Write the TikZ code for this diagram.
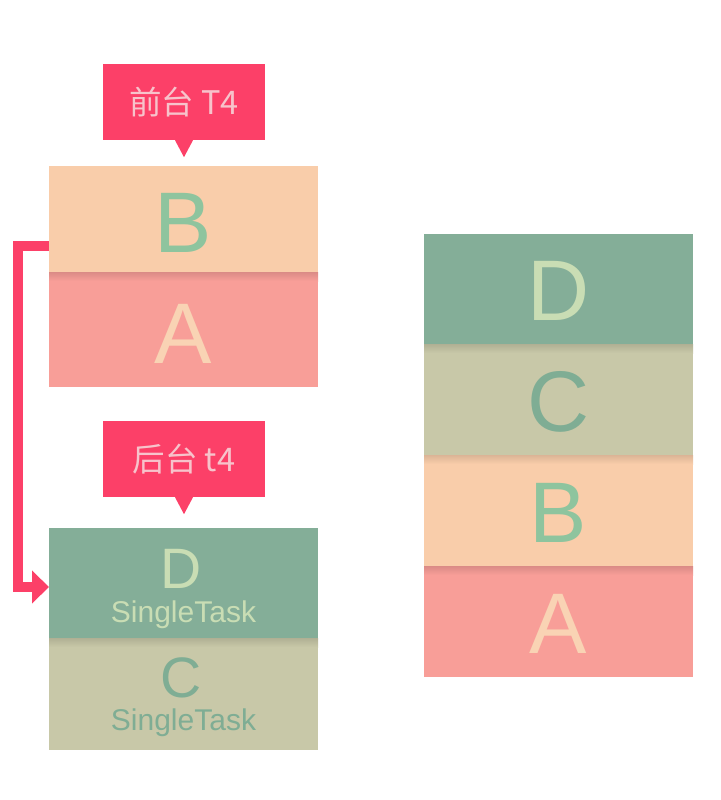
\documentclass[tikz,border=0pt]{standalone}
\usepackage{fontspec}
\setmainfont{Liberation Sans}
\newfontfamily\cjk{Noto Sans CJK SC}
\usetikzlibrary{arrows.meta}
\definecolor{lbl}{RGB}{252,64,104}
\definecolor{lbltxt}{RGB}{247,195,203}
\definecolor{colB}{RGB}{249,205,170}
\definecolor{colA}{RGB}{248,158,152}
\definecolor{colD}{RGB}{132,174,152}
\definecolor{colC}{RGB}{200,200,168}
\definecolor{txtB}{RGB}{142,196,158}
\definecolor{txtA}{RGB}{249,211,180}
\definecolor{txtD}{RGB}{201,221,180}
\definecolor{txtC}{RGB}{127,173,148}
\tikzset{
  box/.style={rectangle, minimum width=269pt, inner sep=0pt, outer sep=0pt, draw=none},
  callout/.style={rectangle, fill=lbl, minimum width=162pt, minimum height=76pt, inner sep=0pt, text=lbltxt, font=\cjk\fontsize{32.5}{32.5}\selectfont},
  bigletter/.style={anchor=base, inner sep=0pt, font=\fontsize{86}{86}\selectfont},
  midletter/.style={anchor=base, inner sep=0pt, font=\fontsize{57}{57}\selectfont},
  tasklabel/.style={anchor=base, inner sep=0pt, font=\fontsize{30}{30}\selectfont},
  flow/.style={draw=lbl, line width=10pt, miter limit=10, -{Triangle[length=17pt,width=32pt]}}
}
\begin{document}
\begin{tikzpicture}[x=1pt,y=-1pt]
\useasboundingbox (0,0) rectangle (720,800);
% left top stack
\node[box, fill=colB, minimum height=106pt] (B1) at (183.5,219) {};
\node[box, fill=colA, minimum height=115pt] (A1) at (183.5,329.5) {};
% left bottom stack
\node[box, fill=colD, minimum height=110pt] (D1) at (183.5,583) {};
\node[box, fill=colC, minimum height=112pt] (C1) at (183.5,694) {};
% right stack
\node[box, fill=colD, minimum height=110pt] (D2) at (558.5,289) {};
\node[box, fill=colC, minimum height=111pt] (C2) at (558.5,399.5) {};
\node[box, fill=colB, minimum height=111pt] (B2) at (558.5,510.5) {};
\node[box, fill=colA, minimum height=111pt] (A2) at (558.5,621.5) {};
% shadows at joins
\shade[top color=colA!88!black, bottom color=colA] (A1.north west) rectangle ([yshift=-9pt]A1.north east);
\shade[top color=colC!88!black, bottom color=colC] (C1.north west) rectangle ([yshift=-9pt]C1.north east);
\shade[top color=colC!88!black, bottom color=colC] (C2.north west) rectangle ([yshift=-9pt]C2.north east);
\shade[top color=colB!88!black, bottom color=colB] (B2.north west) rectangle ([yshift=-9pt]B2.north east);
\shade[top color=colA!88!black, bottom color=colA] (A2.north west) rectangle ([yshift=-9pt]A2.north east);
% letters
\node[bigletter, text=txtB] (tB1) at (183.5,252) {B};
\node[bigletter, text=txtA] (tA1) at (183.5,363) {A};
\node[midletter, text=txtD] (tD1) at (181,588) {D};
\node[tasklabel, text=txtD] (sD1) at (183.5,622) {SingleTask};
\node[midletter, text=txtC] (tC1) at (181,697) {C};
\node[tasklabel, text=txtC] (sC1) at (183.5,730) {SingleTask};
\node[bigletter, text=txtD] (tD2) at (558.5,320) {D};
\node[bigletter, text=txtC] (tC2) at (558.5,431) {C};
\node[bigletter, text=txtB] (tB2) at (558.5,542) {B};
\node[bigletter, text=txtA] (tA2) at (558.5,653) {A};
% callouts
\node[callout] (L1) at (184,102) {前台 T4};
\fill[lbl] ([xshift=-9pt]L1.south) -- ([xshift=9pt]L1.south) -- ([yshift=-17pt]L1.south) -- cycle;
\node[callout] (L2) at (184,459) {后台 t4};
\fill[lbl] ([xshift=-9pt]L2.south) -- ([xshift=9pt]L2.south) -- ([yshift=-17pt]L2.south) -- cycle;
% connector
\draw[flow] ([yshift=-27pt]B1.west) -- ++(-31,0) |- ([yshift=-4pt]D1.west);
\end{tikzpicture}
\end{document}
